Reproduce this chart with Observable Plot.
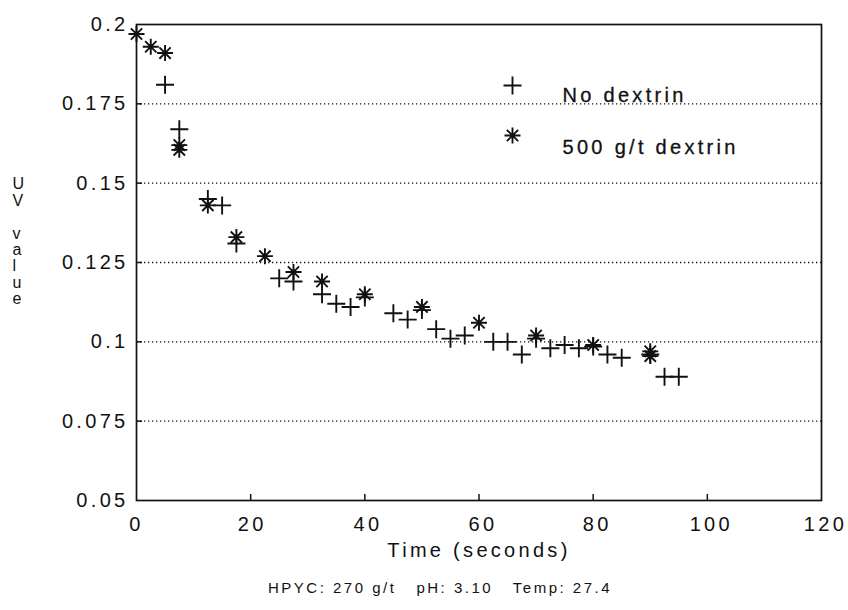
<!DOCTYPE html>
<html>
<head>
<meta charset="utf-8">
<script src="https://cdn.jsdelivr.net/npm/d3@7"></script>
<script src="https://cdn.jsdelivr.net/npm/@observablehq/plot@0.6"></script>
<style>
  body { margin: 0; background: #fff; }
  #chart { width: 848px; }
  .caption {
    font-family: "Liberation Sans", Arial, sans-serif;
    font-size: 15px;
    letter-spacing: 2.5px;
    color: #111;
    padding-left: 268px;
    height: 40px;
    line-height: 36px;
    white-space: pre;
  }
</style>
</head>
<body>
<div id="chart"></div>
<div class="caption" id="caption"></div>
<script>
// UV value readings over time, collector without and with dextrin
const timeNoDextrin = [5, 7.5, 12.5, 15, 17.5, 25, 27.5, 32.5, 35, 37.5, 40, 45, 47.5, 50, 52.5, 55, 57.5, 62.5, 65, 67.5, 70, 72.5, 75, 77.5, 80, 82.5, 85, 90, 92.5, 95];
const uvNoDextrin   = [0.181, 0.167, 0.145, 0.143, 0.131, 0.120, 0.119, 0.115, 0.112, 0.111, 0.114, 0.109, 0.107, 0.110, 0.104, 0.101, 0.102, 0.100, 0.100, 0.096, 0.101, 0.098, 0.099, 0.098, 0.0985, 0.096, 0.095, 0.096, 0.089, 0.089];

const timeDextrin = [0, 2.5, 5, 7.5, 7.5, 12.5, 17.5, 22.5, 27.5, 32.5, 40, 50, 60, 70, 80, 90, 90];
const uvDextrin   = [0.197, 0.193, 0.191, 0.162, 0.1605, 0.143, 0.133, 0.127, 0.122, 0.119, 0.115, 0.111, 0.106, 0.102, 0.099, 0.097, 0.0955];

const xTicks = [0, 20, 40, 60, 80, 100, 120];
const yTicks = [0.05, 0.075, 0.1, 0.125, 0.15, 0.175, 0.2];
const gridLevels = [0.075, 0.1, 0.125, 0.15, 0.175];
const seriesNames = ["No dextrin", "500 g/t dextrin"];
const xTitle = "Time (seconds)";
const yTitleLetters = ["U", "V", "", "v", "a", "l", "u", "e"];
const captionText = "HPYC: 270 g/t   pH: 3.10   Temp: 27.4";

const noDextrin = timeNoDextrin.map((t, i) => ({t, uv: uvNoDextrin[i]}));
const withDextrin = timeDextrin.map((t, i) => ({t, uv: uvDextrin[i]}));

// stroked marker shapes: size is the area, so the arm length is sqrt(size / π)
const plusSymbol = {
  draw(ctx, size) {
    const r = Math.sqrt(size / Math.PI);
    ctx.moveTo(-r, 0); ctx.lineTo(r, 0);
    ctx.moveTo(0, -r); ctx.lineTo(0, r);
  }
};
const starSymbol = {
  draw(ctx, size) {
    const r = Math.sqrt(size / Math.PI);
    const d = r * Math.SQRT1_2;
    ctx.moveTo(-r, 0); ctx.lineTo(r, 0);
    ctx.moveTo(0, -r); ctx.lineTo(0, r);
    ctx.moveTo(-d, -d); ctx.lineTo(d, d);
    ctx.moveTo(-d, d); ctx.lineTo(d, -d);
  }
};

const W = 848, H = 570;
const mL = 136, mR = 27, mT = 24, mB = 70;
const plotW = W - mL - mR, plotH = H - mT - mB;
const ink = "#111";
const font = "'Liberation Sans', Arial, sans-serif";
const markerStyle = {fill: "none", stroke: ink, strokeWidth: 1.9};
const legendText = {frameAnchor: "top-left", dx: 426, textAnchor: "start", fontSize: 20, fill: ink, stroke: ink, strokeWidth: 0.3};

// the plotter spreads its x tick labels slightly wider than the ticks themselves
const xLabelMarks = xTicks.map(v => Plot.text([v], {
  x: d => d, text: d => String(d), frameAnchor: "bottom", dy: 30, dx: Math.min(v * 0.08, 4), fontSize: 20
}));

const chart = Plot.plot({
  width: W,
  height: H,
  marginLeft: mL,
  marginRight: mR,
  marginTop: mT,
  marginBottom: mB,
  style: {fontFamily: font, fontSize: "20px", color: ink, background: "#fff", letterSpacing: "3.3px"},
  x: {domain: [0, 120], axis: null},
  y: {domain: [0.05, 0.2], axis: null},
  marks: [
    Plot.ruleY(gridLevels, {stroke: ink, strokeWidth: 1.3, strokeDasharray: "1.3,2.7"}),
    Plot.tickX(xTicks.slice(1, -1), {x: d => d, insetTop: plotH - 6, stroke: ink, strokeWidth: 1.5}),
    Plot.tickY(gridLevels, {y: d => d, insetRight: plotW - 6, stroke: ink, strokeWidth: 1.5}),
    Plot.frame({stroke: ink, strokeWidth: 1.7}),
    ...xLabelMarks,
    Plot.axisY({ticks: yTicks, tickSize: 0, tickPadding: 8, tickFormat: d => String(d), label: null}),
    Plot.text([xTitle], {text: d => d, frameAnchor: "bottom", dy: 56, fontSize: 20}),
    // y title written as a vertical stack of letters
    Plot.text([yTitleLetters.join("\n")], {
      text: d => d, frameAnchor: "left", dx: -124, dy: -21, fontSize: 16, lineHeight: 1.03
    }),
    Plot.dot(noDextrin, {x: "t", y: "uv", symbol: plusSymbol, r: 9, ...markerStyle}),
    Plot.dot(withDextrin, {x: "t", y: "uv", symbol: starSymbol, r: 8, ...markerStyle}),
    // legend inside the frame
    Plot.dot([seriesNames[0]], {frameAnchor: "top-left", dx: 376, dy: 61, symbol: plusSymbol, r: 9, ...markerStyle}),
    Plot.dot([seriesNames[1]], {frameAnchor: "top-left", dx: 376, dy: 111, symbol: starSymbol, r: 8, ...markerStyle}),
    Plot.text([seriesNames[0]], {text: d => d, dy: 63, ...legendText}),
    Plot.text([seriesNames[1]], {text: d => d, dy: 115, ...legendText})
  ]
});
document.getElementById("chart").append(chart);
document.getElementById("caption").textContent = captionText;
</script>
</body>
</html>
